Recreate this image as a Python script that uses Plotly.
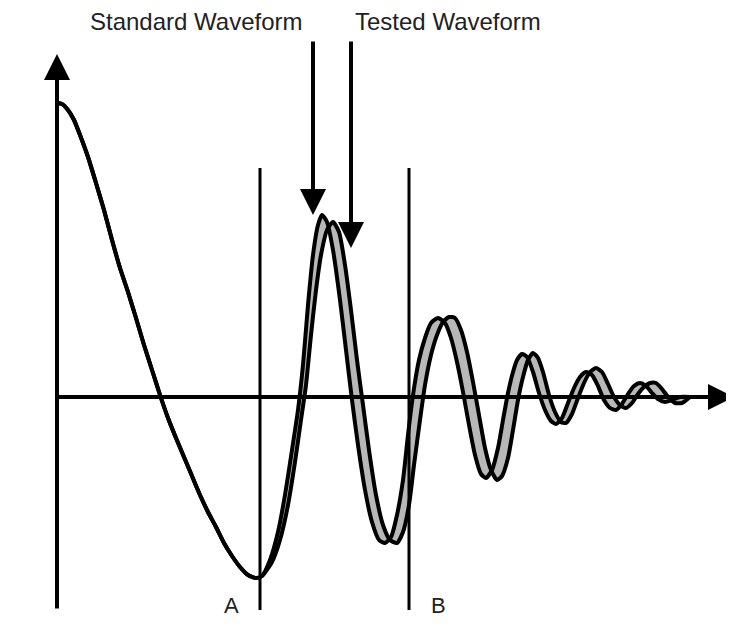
import plotly.graph_objects as go

# shared part of both waveforms (time, amplitude) before point A
shared_t = [0, 5, 11, 17, 23, 31, 39, 47, 55, 63, 71, 79, 87, 95, 103, 111, 119, 127,
            135, 143, 151, 159, 167, 175, 183, 191, 199, 205]
shared_a = [294, 293, 287, 277, 262, 240, 214, 187, 157, 129, 105, 79, 52, 27, 2, -21, -41, -60,
            -79, -98, -115, -130, -146, -159, -170, -178, -181, -179]

# standard waveform after A
std_t = [213, 221, 228, 235, 241, 246, 251, 256, 261, 265, 270, 276, 283, 289, 295, 301, 308, 315,
         322, 328, 334, 340, 346, 351, 356, 362, 368, 374, 381, 388, 394, 400, 406, 412, 418, 424,
         429, 435, 441, 446, 451, 456, 460, 465, 470, 476, 482, 488, 494, 499, 505, 511, 517, 523,
         529, 535, 541, 547, 553, 559, 565, 571, 577, 583, 589, 595, 601, 608, 615, 623, 633]
std_a = [-163, -135, -98, -53, -13, 32, 92, 142, 172, 182, 175, 147, 97, 47, -3, -48, -93, -125,
         -143, -146, -140, -118, -83, -38, 2, 37, 59, 74, 79, 74, 59, 35, 5, -28, -58, -77,
         -81, -73, -51, -23, 4, 25, 37, 43, 40, 25, 4, -13, -24, -27, -21, -6, 9, 20,
         25, 22, 11, -3, -11, -13, -7, 3, 11, 14, 11, 4, -2, -5, -3, 0, 0]

# tested waveform after A
tst_t = [215, 223, 231, 238, 244, 249, 254, 259, 264, 270, 276, 282, 288, 294, 300, 306, 312, 319,
         326, 333, 340, 346, 352, 357, 363, 368, 374, 380, 386, 392, 398, 404, 410, 416, 422, 428,
         434, 440, 445, 451, 456, 461, 466, 471, 476, 481, 486, 492, 498, 504, 509, 515, 521, 527,
         533, 539, 545, 551, 557, 563, 569, 575, 581, 587, 593, 599, 605, 611, 618, 625, 633]
tst_a = [-165, -143, -108, -65, -23, 12, 62, 107, 142, 167, 175, 165, 132, 87, 37, -8, -53, -98,
         -128, -143, -146, -135, -108, -68, -23, 12, 42, 62, 75, 80, 79, 67, 45, 15, -18, -51,
         -73, -83, -79, -61, -33, -3, 20, 37, 44, 39, 25, 2, -15, -25, -26, -17, -1, 14,
         25, 29, 25, 13, 0, -8, -11, -6, 3, 10, 14, 14, 8, 0, -6, -6, 0]

labels = ["Standard Waveform", "Tested Waveform"]
label_t = [139, 391]
marks = ["A", "B"]
mark_t = [203, 352]

standard_t = shared_t + std_t
standard_a = shared_a + std_a
tested_t = shared_t + tst_t
tested_a = shared_a + tst_a
n_shared = len(shared_t)

fig = go.Figure()

# gray band between the two waveforms
fig.add_trace(go.Scatter(
    x=tested_t + standard_t[::-1], y=tested_a + standard_a[::-1],
    fill="toself", fillcolor="#b8b8b8", mode="lines",
    line=dict(width=0, shape="spline", smoothing=0.6), hoverinfo="skip", showlegend=False))

for t, a in [(standard_t, standard_a), (tested_t, tested_a)]:
    fig.add_trace(go.Scatter(x=t, y=a, mode="lines",
                             line=dict(color="black", width=4, shape="spline", smoothing=0.6),
                             showlegend=False))

# markers A and B
for name, t in zip(marks, mark_t):
    fig.add_shape(type="line", x0=t, x1=t, y0=-213, y1=229, line=dict(color="black", width=3))
    fig.add_annotation(x=t + (-29 if name == "A" else 29), y=-208, text=name, showarrow=False,
                       font=dict(size=22, color="#222"))


def arrow(x, y, ax, ay, w, s):
    fig.add_annotation(x=x, y=y, ax=ax, ay=ay, xref="x", yref="y", axref="x", ayref="y",
                       text="", showarrow=True, arrowhead=2, arrowwidth=w, arrowsize=s,
                       arrowcolor="black")


# axes with arrow heads
arrow(0, 343, 0, -213, 4, 1.3)
arrow(677, 0, 0, 0, 4, 1.3)

# waveform pointers
arrow(standard_t[n_shared + 7], 182, standard_t[n_shared + 7], 357, 4, 1.3)
arrow(tested_t[n_shared + 13], 149, tested_t[n_shared + 13], 357, 4, 1.3)

for text, t in zip(labels, label_t):
    fig.add_annotation(x=t, y=376, text=text, showarrow=False,
                       font=dict(size=24, color="#222"))

# ranges offset by the 8px page margin of the html body
fig.update_xaxes(range=[-49, 685], visible=False, showgrid=False, zeroline=False)
fig.update_yaxes(range=[-239, 389], visible=False, showgrid=False, zeroline=False)
fig.update_layout(width=734, height=628, margin=dict(l=0, r=0, t=0, b=0),
                  plot_bgcolor="white", paper_bgcolor="white",
                  font=dict(family="Liberation Sans, Arial, sans-serif"))

fig.write_html("out.html")
